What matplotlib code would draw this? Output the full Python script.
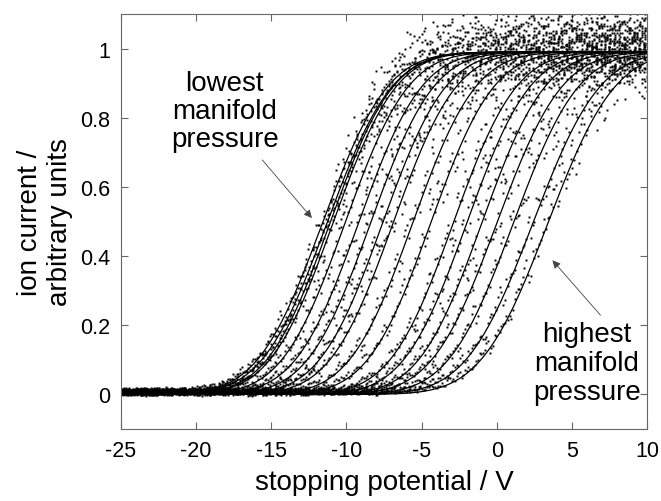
import numpy as np
import matplotlib
matplotlib.use('Agg')
import matplotlib.pyplot as plt
from math import erf

plt.rcParams['font.family'] = ['Liberation Sans', 'DejaVu Sans']
plt.rcParams['axes.unicode_minus'] = False

# fitted curves: stopping potential at half height (V) and width (V)
centres = [-11.6, -11.3, -11.1, -10.9, -10.1, -9.2, -8.4, -7.6, -6.9,
           -5.6, -4.4, -2.9, -2.0, -1.0, 0.0, 1.1, 2.4, 3.4]
widths = [3.4, 3.4, 3.3, 3.3, 3.3, 3.3, 3.3, 3.3, 3.3,
          3.3, 3.3, 3.3, 3.3, 3.3, 3.4, 3.4, 3.5, 3.5]
plateau = 0.99

# hand-estimated scatter of the measured points about the fits
jit_a = [0.3, -0.8, 0.1, 0.9, -0.4, -0.1, 0.6, -0.9, 0.2, 0.5, -0.6, 0.0,
         0.8, -0.3, -0.7, 0.4, 1.0, -0.2, -0.5, 0.7, 0.1, -1.0, 0.3, 0.6,
         -0.4, 0.9, -0.6, 0.2, -0.1, 0.5, -0.8, 0.0, 0.7, -0.3, 0.4, -0.9,
         0.8, -0.5, 0.1, 0.6, -0.2]
jit_b = [-0.5, 0.7, 0.2, -0.9, 0.4, -0.1, 0.9, -0.6, 0.0, 0.5, -0.3, 0.8,
         -0.7, 0.3, -0.2, 0.6, -1.0, 0.1, 0.4, -0.4, 1.0, -0.8, 0.2]

x_lo, x_hi = -25, 10
step = 0.11


def fit_curve(x, c, w):
    return np.array([plateau * 0.5 * (1 + erf((v - c) / (w * np.sqrt(2)))) for v in x])


fig = plt.figure(figsize=(6.61, 5.02), dpi=100)
ax = fig.add_axes([0.183, 0.1434, 0.796, 0.8267])

xs = np.arange(x_lo, x_hi + step / 2, step)
xf = np.linspace(x_lo, x_hi, 400)
for k, (c, w) in enumerate(zip(centres, widths)):
    yd = fit_curve(xs, c, w)
    n = np.arange(len(xs))
    ja = np.array(jit_a)[(n * 7 + k * 11) % len(jit_a)]
    jb = np.array(jit_b)[(n * 5 + k * 3) % len(jit_b)]
    noise = 0.5 * (ja + jb) * (0.012 + 0.11 * yd) + 0.008
    ax.plot(xs, yd + noise, 's', color='black', ms=1.4, mew=0)
    ax.plot(xf, fit_curve(xf, c, w), color='black', lw=0.9)

ax.set_xlim(x_lo, x_hi)
ax.set_ylim(-0.1, 1.1)
ax.set_xticks(range(-25, 11, 5))
ax.set_yticks([0, 0.2, 0.4, 0.6, 0.8, 1])
ax.set_yticklabels(['0', '0.2', '0.4', '0.6', '0.8', '1'])
ax.tick_params(direction='in', length=5, top=True, right=True, labelsize=15.5,
               color='#666666', pad=8)
for s in ax.spines.values():
    s.set_color('#666666')
    s.set_linewidth(0.8)

ax.set_xlabel('stopping potential / V', fontsize=20, labelpad=6)
ax.set_ylabel('ion current /\narbitrary units', fontsize=20, labelpad=5)

ax.text(-18.1, 0.82, 'lowest\nmanifold\npressure', ha='center', va='center',
        fontsize=20, linespacing=1.1)
ax.annotate('', xy=(-12.3, 0.51), xytext=(-15.6, 0.678),
            arrowprops=dict(arrowstyle='-|>', color='#444444', lw=0.6,
                            mutation_scale=12, shrinkA=0, shrinkB=0))
ax.text(6.0, 0.09, 'highest\nmanifold\npressure', ha='center', va='center',
        fontsize=20, linespacing=1.15)
ax.annotate('', xy=(3.7, 0.388), xytext=(6.9, 0.229),
            arrowprops=dict(arrowstyle='-|>', color='#444444', lw=0.6,
                            mutation_scale=12, shrinkA=0, shrinkB=0))

fig.savefig('out.png', dpi=100)
